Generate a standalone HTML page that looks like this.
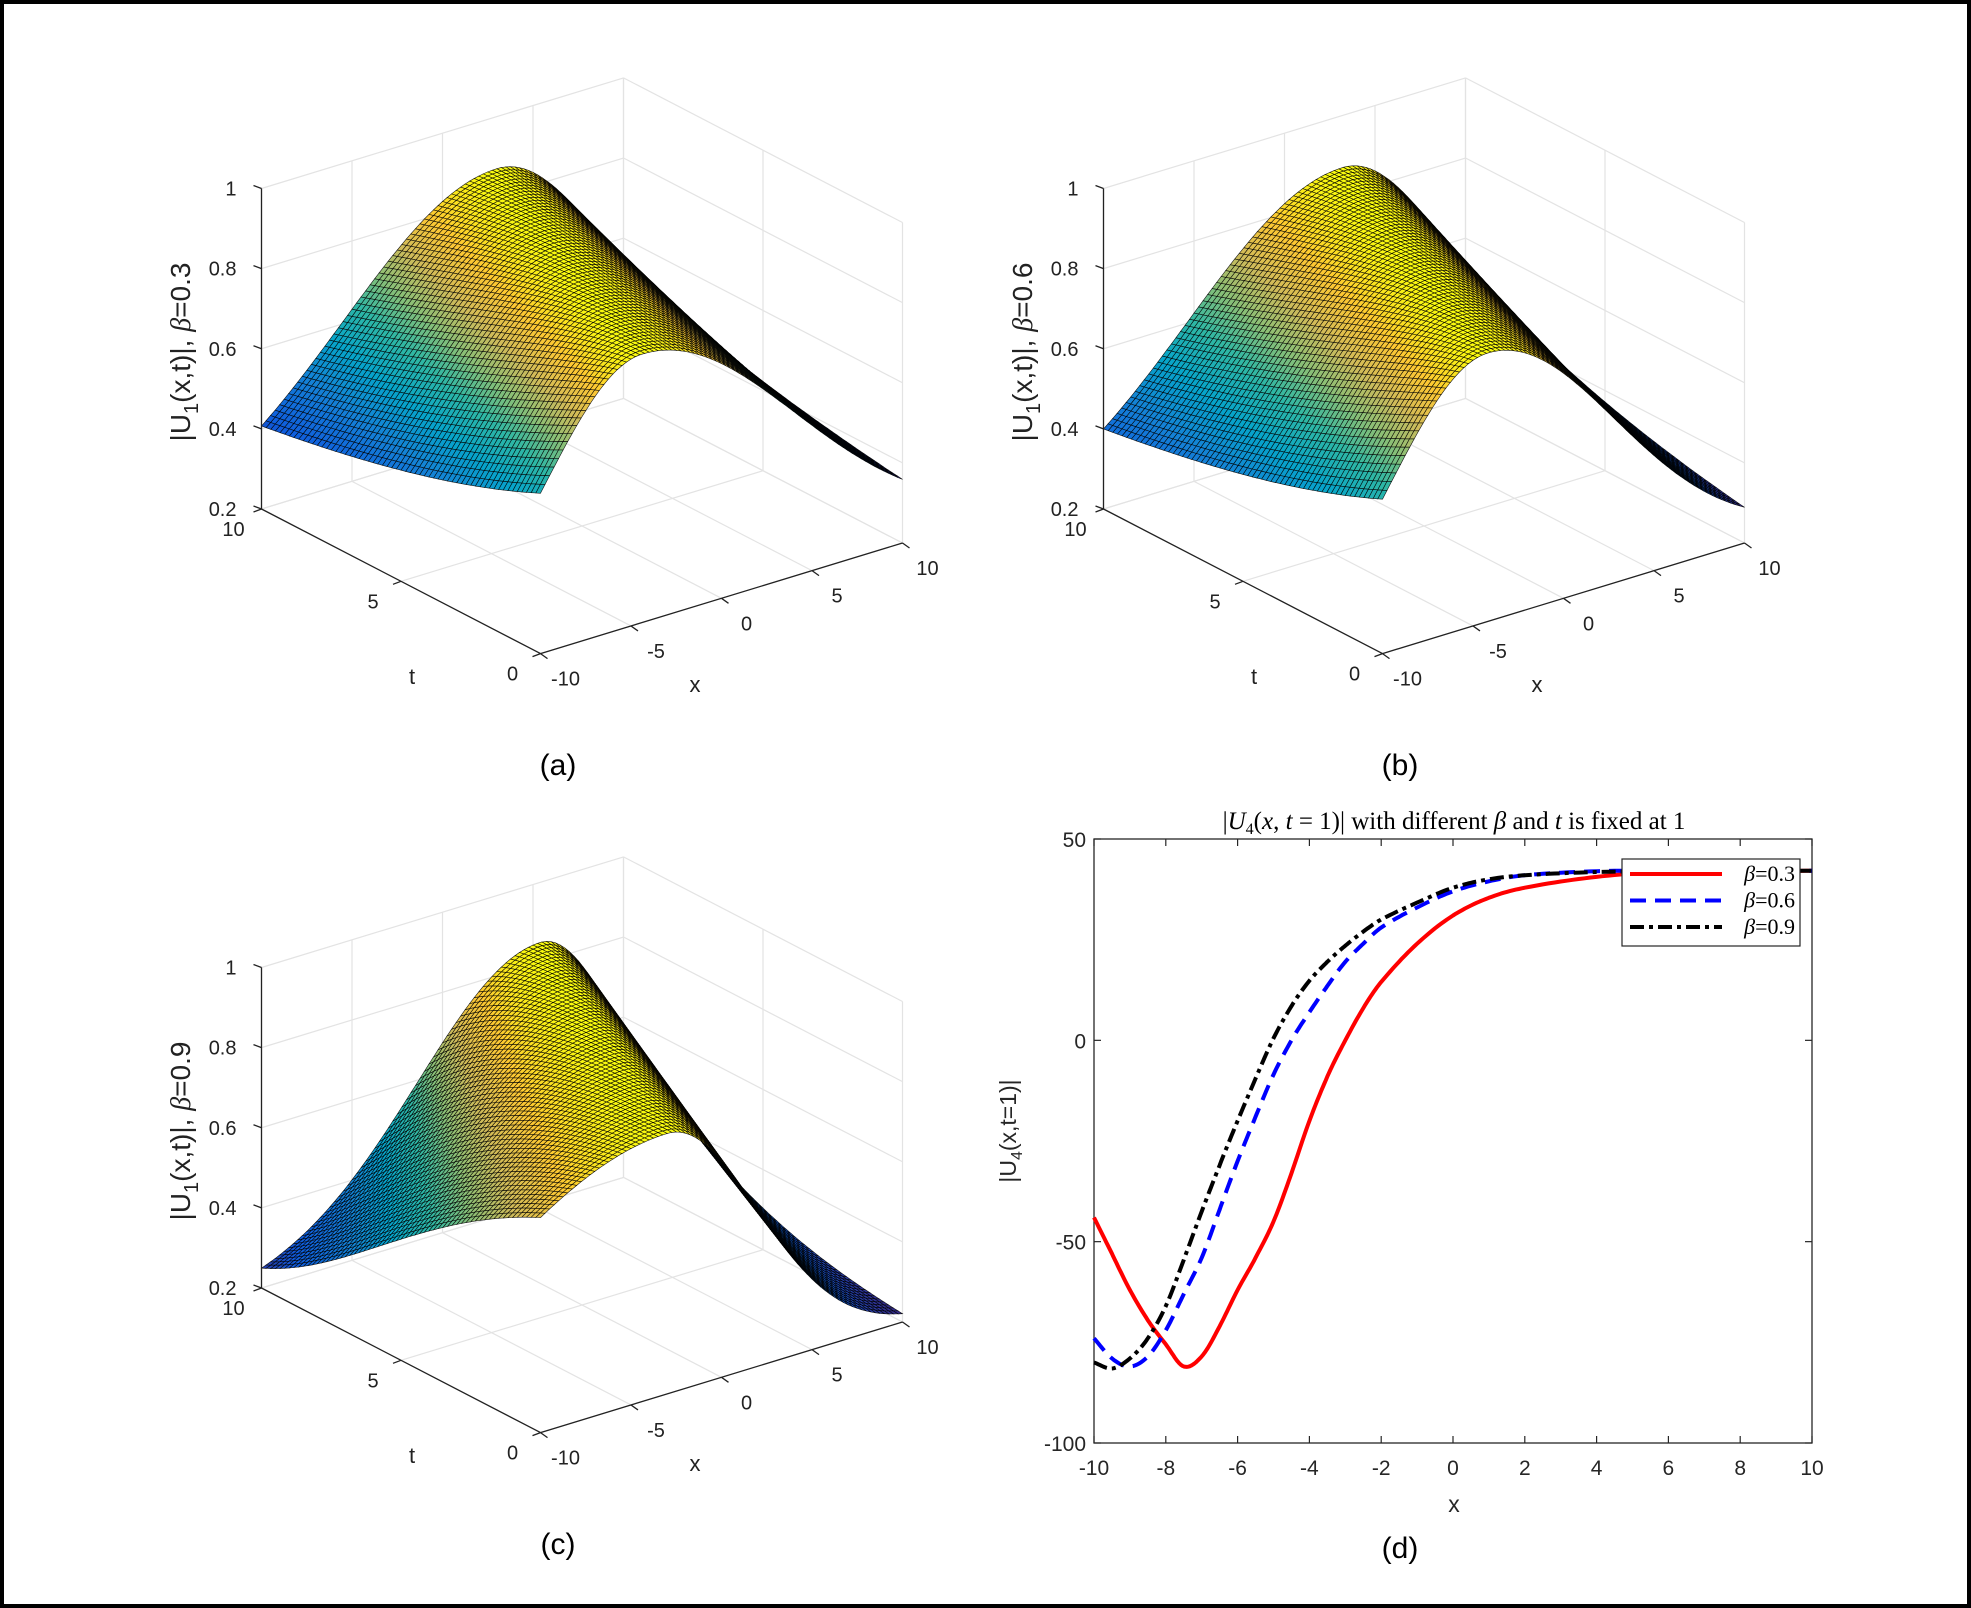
<!DOCTYPE html>
<html><head><meta charset="utf-8"><title>U1 surfaces and U4 curves</title>
<style>
html,body{margin:0;padding:0;background:#fff;}
svg{display:block;font-family:"Liberation Sans",sans-serif;}
</style></head>
<body>
<svg id="fig" width="1971" height="1608" viewBox="0 0 1971 1608" xmlns="http://www.w3.org/2000/svg">
<rect x="2" y="2" width="1967" height="1604" fill="#fff" stroke="#000" stroke-width="4"/>
<g id="panels"></g>
<g id="pd"></g>
</svg>
<script>
// ---- surface data (parameters for each panel) ----
const panelNames = ['a','b','c'];
const panelBetas = ['0.3','0.6','0.9'];
const surfBase = [0.2, 0.2, 0.2];
const surfAmp = [0.67, 0.67, 0.65];
const surfCenter0 = [-4.4, -4.2, -3];
const surfSpeed = [0.74, 0.74, 0.84];
const surfWidthLeft0 = [7.8, 7.8, 16];
const surfWidthLeft10 = [12, 12, 9.6];
const surfWidthRight0 = [12, 10, 7];
const surfWidthRight10 = [8.4, 8, 6];
const zTicks = [0.2, 0.4, 0.6, 0.8, 1];
const xTicks3 = [-10, -5, 0, 5, 10];
const tTicks3 = [0, 5, 10];

// ---- panel d data ----
const dX = [-10,-9.5,-9,-8.5,-8,-7.5,-7,-6.5,-6,-5.5,-5,-4.5,-4,-3.5,-3,-2.5,-2,-1,0,1,2,4,6,8,10];
const dBeta03 = [-44,-53,-62,-69.5,-75.5,-81,-78.5,-71,-62,-54,-45,-33,-20,-9,0,8,14.5,24,31,35.4,37.9,40.6,41.9,42,42.1];
const dBeta06 = [-74,-79,-81,-78.5,-72,-63,-54,-42,-30,-19,-8.5,0,7,13.5,19.5,24,28,33,37,39.5,41,42,42.1,42.1,42.1];
const dBeta09 = [-80,-81.5,-79,-74,-66,-54.5,-42.5,-31,-20,-9.5,0.5,8.5,14.8,19.5,23.5,27,30,34.2,37.9,40,41,41.8,42,42.1,42.1];
const dXTicks = [-10,-8,-6,-4,-2,0,2,4,6,8,10];
const dYTicks = [50,0,-50,-100];
const legendLabels = ['0.3','0.6','0.9'];

const NS='http://www.w3.org/2000/svg';
function mk(tag, attrs, parent){const e=document.createElementNS(NS,tag);for(const k in attrs)e.setAttribute(k,attrs[k]);if(parent)parent.appendChild(e);return e;}

const parula=[[0,[53,42,135]],[0.12,[15,92,221]],[0.28,[20,129,214]],[0.42,[6,164,202]],[0.55,[46,183,164]],[0.66,[135,191,119]],[0.77,[209,187,89]],[0.88,[254,200,50]],[1,[249,251,14]]];
function cmap(v){v=Math.max(0,Math.min(1,v));for(let i=1;i<parula.length;i++){if(v<=parula[i][0]){const a=parula[i-1],b=parula[i];const f=(v-a[0])/(b[0]-a[0]);const c=a[1].map((q,j)=>Math.round(q+(b[1][j]-q)*f));return 'rgb('+c.join(',')+')';}}return 'rgb(249,251,14)';}

const offs=[[0,0],[842,0],[0,779]];
const panelsG=document.getElementById('panels');
for(let p=0;p<3;p++){
  const ox=offs[p][0], oy=offs[p][1];
  const F=[540.5+ox,653.6+oy], R=[902.5+ox,543+oy], L=[261.5+ox,509+oy];
  const sx=x=>(x+10)/20, st=t=>t/10;
  function proj(x,t,z){return [F[0]+sx(x)*(R[0]-F[0])+st(t)*(L[0]-F[0]), F[1]+sx(x)*(R[1]-F[1])+st(t)*(L[1]-F[1])-(z-0.2)/0.8*320.5];}
  const g=mk('g',{},panelsG);
  
  
  const grid=mk('g',{stroke:'#e3e3e3','stroke-width':1.2,fill:'none'},g);
  
  
  function line(a,b,parent,stroke,w){return mk('line',{x1:a[0],y1:a[1],x2:b[0],y2:b[1],stroke:stroke||'#e3e3e3','stroke-width':w||1.2},parent);}
  xTicks3.forEach(x=>{line(proj(x,0,0.2),proj(x,10,0.2),grid);line(proj(x,10,0.2),proj(x,10,1),grid);});
  tTicks3.forEach(t=>{line(proj(-10,t,0.2),proj(10,t,0.2),grid);line(proj(10,t,0.2),proj(10,t,1),grid);});
  zTicks.forEach(z=>{line(proj(-10,10,z),proj(10,10,z),grid);line(proj(10,10,z),proj(10,0,z),grid);});
  // surface
  const zf=(x,t)=>{const c=surfCenter0[p]+surfSpeed[p]*t;const f=t/10;
    const wl=surfWidthLeft0[p]+(surfWidthLeft10[p]-surfWidthLeft0[p])*f;
    const wr=surfWidthRight0[p]+(surfWidthRight10[p]-surfWidthRight0[p])*f;
    const w=x<c?wl:wr;const d=(x-c)/w;return surfBase[p]+surfAmp[p]*Math.exp(-d*d);};
  const N=80,M=60;let zmin=1e9,zmax=-1e9;const Z=[];
  for(let i=0;i<=N;i++){Z.push([]);for(let j=0;j<=M;j++){const x=-10+20*i/N,t=10*j/M;const z=zf(x,t);Z[i].push(z);zmin=Math.min(zmin,z);zmax=Math.max(zmax,z);}}
  const quads=[];
  for(let i=0;i<N;i++)for(let j=0;j<M;j++)quads.push([i,j,(i+0.5)/N+(j+0.5)/M]);
  quads.sort((a,b)=>b[2]-a[2]);
  const sg=mk('g',{stroke:'#000','stroke-width':0.6,'stroke-opacity':0.9},g);
  
  
  for(const q of quads){const i=q[0],j=q[1];
    const pts=[[i,j],[i+1,j],[i+1,j+1],[i,j+1]].map(([a,b])=>proj(-10+20*a/N,10*b/M,Z[a][b]));
    const zc=(Z[i][j]+Z[i+1][j]+Z[i+1][j+1]+Z[i][j+1])/4;
    mk('path',{d:'M'+pts.map(v=>v[0].toFixed(1)+','+v[1].toFixed(1)).join('L')+'Z',fill:cmap((zc-zmin)/(zmax-zmin))},sg);
  }
  // axes
  const ax=mk('g',{},g);
  
  
  line(proj(-10,10,0.2),proj(-10,10,1),ax,'#222',1.3);
  line(proj(-10,0,0.2),proj(-10,10,0.2),ax,'#222',1.3);
  line(proj(-10,0,0.2),proj(10,0,0.2),ax,'#222',1.3);
  zTicks.forEach(z=>{const a=proj(-10,10,z);line(a,[a[0]-8,a[1]-3],ax,'#222',1.3);
    const tx=mk('text',{x:a[0]-25,y:a[1]+7,'text-anchor':'end','font-size':20,fill:'#222'},ax);tx.textContent=String(z);
    });
  tTicks3.forEach(t=>{const a=proj(-10,t,0.2);line(a,[a[0]-8,a[1]+3],ax,'#222',1.3);
    const tx=mk('text',{x:a[0]-28,y:a[1]+27,'text-anchor':'middle','font-size':20,fill:'#222'},ax);tx.textContent=String(t);
    });
  xTicks3.forEach(x=>{const a=proj(x,0,0.2);line(a,[a[0]+7,a[1]+5],ax,'#222',1.3);
    const tx=mk('text',{x:a[0]+25,y:a[1]+32,'text-anchor':'middle','font-size':20,fill:'#222'},ax);tx.textContent=String(x);
    });
  const tl=mk('text',{x:412+ox,y:684+oy,'text-anchor':'middle','font-size':22,fill:'#222'},g);tl.textContent='t';
  
  const xl=mk('text',{x:695+ox,y:692+oy,'text-anchor':'middle','font-size':22,fill:'#222'},g);xl.textContent='x';
  
  const zl=mk('text',{x:0,y:0,'text-anchor':'middle','font-size':28,fill:'#222',transform:'translate('+(190+ox)+','+(352+oy)+') rotate(-90)'},g);
  zl.innerHTML='|U<tspan font-size="20" dy="8">1</tspan><tspan dy="-8">(x,t)|,  </tspan><tspan font-family="Liberation Serif,serif" font-style="italic">β</tspan>=' + panelBetas[p];
  
  const cap=mk('text',{x:558+ox,y:775+oy,'text-anchor':'middle','font-size':30,fill:'#000'},g);cap.textContent='('+panelNames[p]+')';
  
}

// ---- panel d ----
const pd=document.getElementById('pd');
const L0=1094,R0=1812,T0=839,B0=1443;
const X=v=>L0+(v+10)/20*(R0-L0);
const Y=v=>B0-(v+100)/150*(B0-T0);
const box=mk('rect',{x:L0,y:T0,width:R0-L0,height:B0-T0,fill:'#fff',stroke:'#262626','stroke-width':1.3},pd);

dXTicks.forEach(v=>{
  mk('line',{x1:X(v),y1:B0,x2:X(v),y2:B0-7,stroke:'#262626','stroke-width':1.2},pd);
  mk('line',{x1:X(v),y1:T0,x2:X(v),y2:T0+7,stroke:'#262626','stroke-width':1.2},pd);
  const t=mk('text',{x:X(v),y:B0+32,'text-anchor':'middle','font-size':21,fill:'#262626'},pd);t.textContent=String(v);
  
});
dYTicks.forEach(v=>{
  mk('line',{x1:L0,y1:Y(v),x2:L0+7,y2:Y(v),stroke:'#262626','stroke-width':1.2},pd);
  mk('line',{x1:R0,y1:Y(v),x2:R0-7,y2:Y(v),stroke:'#262626','stroke-width':1.2},pd);
  const t=mk('text',{x:L0-8,y:Y(v)+8,'text-anchor':'end','font-size':21,fill:'#262626'},pd);t.textContent=String(v);
  
});
// cubic Hermite interpolation in data space
function smoothPath(xs,ys){const n=xs.length;const m=[];
  for(let i=0;i<n;i++){const a=Math.max(0,i-1),b=Math.min(n-1,i+1);m.push((ys[b]-ys[a])/(xs[b]-xs[a]));}
  let d='M'+X(xs[0]).toFixed(1)+','+Y(ys[0]).toFixed(1);
  for(let i=0;i<n-1;i++){const h=xs[i+1]-xs[i];const S=12;
    for(let k=1;k<=S;k++){const s=k/S;const h00=2*s*s*s-3*s*s+1,h10=s*s*s-2*s*s+s,h01=-2*s*s*s+3*s*s,h11=s*s*s-s*s;
      const y=h00*ys[i]+h10*h*m[i]+h01*ys[i+1]+h11*h*m[i+1];d+='L'+X(xs[i]+h*s).toFixed(1)+','+Y(y).toFixed(1);}}
  return d;}
const series=[[dBeta03,'#ff0000','none'],[dBeta06,'#0000ff','16 9'],[dBeta09,'#000000','14 5 4 5']];
const cg=mk('g',{},pd);
series.forEach((s,i)=>{const p=mk('path',{d:smoothPath(dX,s[0]),fill:'none',stroke:s[1],'stroke-width':4,'stroke-dasharray':s[2],'stroke-linejoin':'round'},cg);
  });
const title=mk('text',{x:1454,y:829,'text-anchor':'middle','font-size':25,fill:'#000','font-family':'Liberation Serif,serif'},pd);
title.innerHTML='|<tspan font-style="italic">U</tspan><tspan font-size="16" dy="5">4</tspan><tspan dy="-5">(</tspan><tspan font-style="italic">x</tspan>, <tspan font-style="italic">t</tspan> = 1)| with different <tspan font-style="italic">β</tspan> and <tspan font-style="italic">t</tspan> is fixed at 1';

const xt=mk('text',{x:1454,y:1512,'text-anchor':'middle','font-size':23,fill:'#262626'},pd);xt.textContent='x';

const yt=mk('text',{x:0,y:0,'text-anchor':'middle','font-size':23,fill:'#262626',transform:'translate(1016,1131) rotate(-90)'},pd);
yt.innerHTML='|U<tspan font-size="16" dy="6">4</tspan><tspan dy="-6">(x,t=1)|</tspan>';

const lg=mk('g',{},pd);

mk('rect',{x:1622,y:859,width:178,height:87,fill:'#fff',stroke:'#262626','stroke-width':1.2},lg);
series.forEach((s,i)=>{const y=874+i*26.5;
  const e=mk('g',{},lg);
  mk('line',{x1:1630,y1:y,x2:1722,y2:y,stroke:s[1],'stroke-width':4,'stroke-dasharray':s[2]},e);
  const t=mk('text',{x:1795,y:y+7,'text-anchor':'end','font-size':22,fill:'#000','font-family':'Liberation Serif,serif'},e);
  t.innerHTML='<tspan font-style="italic">β</tspan>='+legendLabels[i];});
const capd=mk('text',{x:1400,y:1558,'text-anchor':'middle','font-size':30,fill:'#000'},pd);capd.textContent='(d)';

</script>
</body></html>
